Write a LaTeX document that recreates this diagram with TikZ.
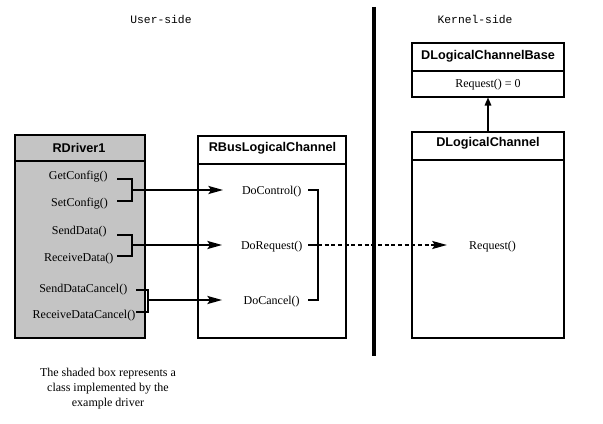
\documentclass[tikz,border=0pt]{standalone}
\usepackage{fontspec}
\setmainfont{Liberation Serif}
\setmonofont{Liberation Mono}
\newfontfamily\headfont{Liberation Sans}
\usetikzlibrary{arrows.meta}
\definecolor{shade}{RGB}{196,196,196}
\tikzset{
  classbox/.style={draw, line width=0.8pt, inner sep=0pt},
  classname/.style={font=\headfont\bfseries\fontsize{9.5}{11}\selectfont, inner sep=0pt},
  method/.style={font=\fontsize{9}{11}\selectfont, inner sep=1pt, yshift=-1.2pt},
  sidename/.style={font=\ttfamily\fontsize{8.5}{10}\selectfont},
  bracket/.style={line width=1.6pt},
  call/.style={line width=1.6pt, -{Stealth[length=11pt,width=6pt,inset=2pt]}},
  farcall/.style={call, dash pattern=on 3pt off 2pt},
  inherit/.style={line width=0.8pt, -{Triangle[length=6pt,width=5pt]}},
  divider/.style={line width=2.4pt}
}
\begin{document}
\begin{tikzpicture}[x=0.75pt, y=-0.75pt]
\useasboundingbox (0,0) rectangle (603,424);

\node[sidename] (user)   at (161,19) {User-side};
\node[sidename] (kernel) at (475,19) {Kernel-side};
\coordinate (divtop) at (374,7);
\coordinate (divbot) at (374,356);
\draw[divider] (divtop) -- (divbot);

% user-side classes
\node[classbox, fill=shade, minimum width=97.5pt, minimum height=152.25pt] (rdriver) at (80,236.5) {};
\node[classname] (rdname) at (79,148) {RDriver1};
\draw[line width=0.8pt] (rdriver.west |- 0,161) -- (rdriver.east |- 0,161);

\node[classbox, minimum width=111pt, minimum height=151.5pt] (rbus) at (272,237) {};
\node[classname] (rbname) at (272.5,148) {RBusLogicalChannel};
\draw[line width=0.8pt] (rbus.west |- 0,164) -- (rbus.east |- 0,164);

\node[method] (getcfg)  at (78.3,175) {GetConfig()};
\node[method] (setcfg)  at (79.5,202) {SetConfig()};
\node[method] (senddat) at (79.3,230) {SendData()};
\node[method] (recvdat) at (78.7,257) {ReceiveData()};
\node[method] (sendcan) at (83.3,288) {SendDataCancel()};
\node[method] (recvcan) at (84,314)   {ReceiveDataCancel()};

\node[method] (doctl) at (271.7,190) {DoControl()};
\node[method] (doreq) at (271.7,245) {DoRequest()};
\node[method] (docan) at (271.7,300) {DoCancel()};

\coordinate (j1) at (132,190);
\coordinate (j2) at (132,245);
\coordinate (j3) at (148,300);
\draw[bracket] (117,179) -| (j1) |- (117,201);
\draw[bracket] (117,235) -| (j2) |- (117,256);
\draw[bracket] (136,290) -| (j3) |- (136,312);
\draw[call, shorten >=13pt] (j1) -- (doctl.west |- j1);
\draw[call, shorten >=13pt] (j2) -- (doreq.west |- j2);
\draw[call, shorten >=15pt] (j3) -- (docan.west |- j3);

\coordinate (j4) at (318,245);
\draw[bracket] (308,190) -| (j4) |- (308,300);
\draw[bracket] (308,245) -- (j4);

% kernel-side classes
\node[classbox, minimum width=114pt, minimum height=40.5pt] (dlcbase) at (488,70) {};
\node[classname] (dbname) at (488,56) {DLogicalChannelBase};
\draw[line width=0.8pt] (dlcbase.west |- 0,71) -- (dlcbase.east |- 0,71);
\node[method] (reqzero) at (488,83) {Request() = 0};

\node[classbox, minimum width=114pt, minimum height=154.5pt] (dlc) at (488,235) {};
\node[classname] (dlname) at (488,143) {DLogicalChannel};
\draw[line width=0.8pt] (dlc.west |- 0,160) -- (dlc.east |- 0,160);
\node[method] (req) at (492.5,245) {Request()};

\draw[inherit] (dlc.north) -- (dlcbase.south);
\draw[farcall, shorten >=15.5pt] (j4) -- (req.west |- j4);

\node[method, align=center] (note) at (108,387) {The shaded box represents a\\class implemented by the\\example driver};
\end{tikzpicture}
\end{document}
